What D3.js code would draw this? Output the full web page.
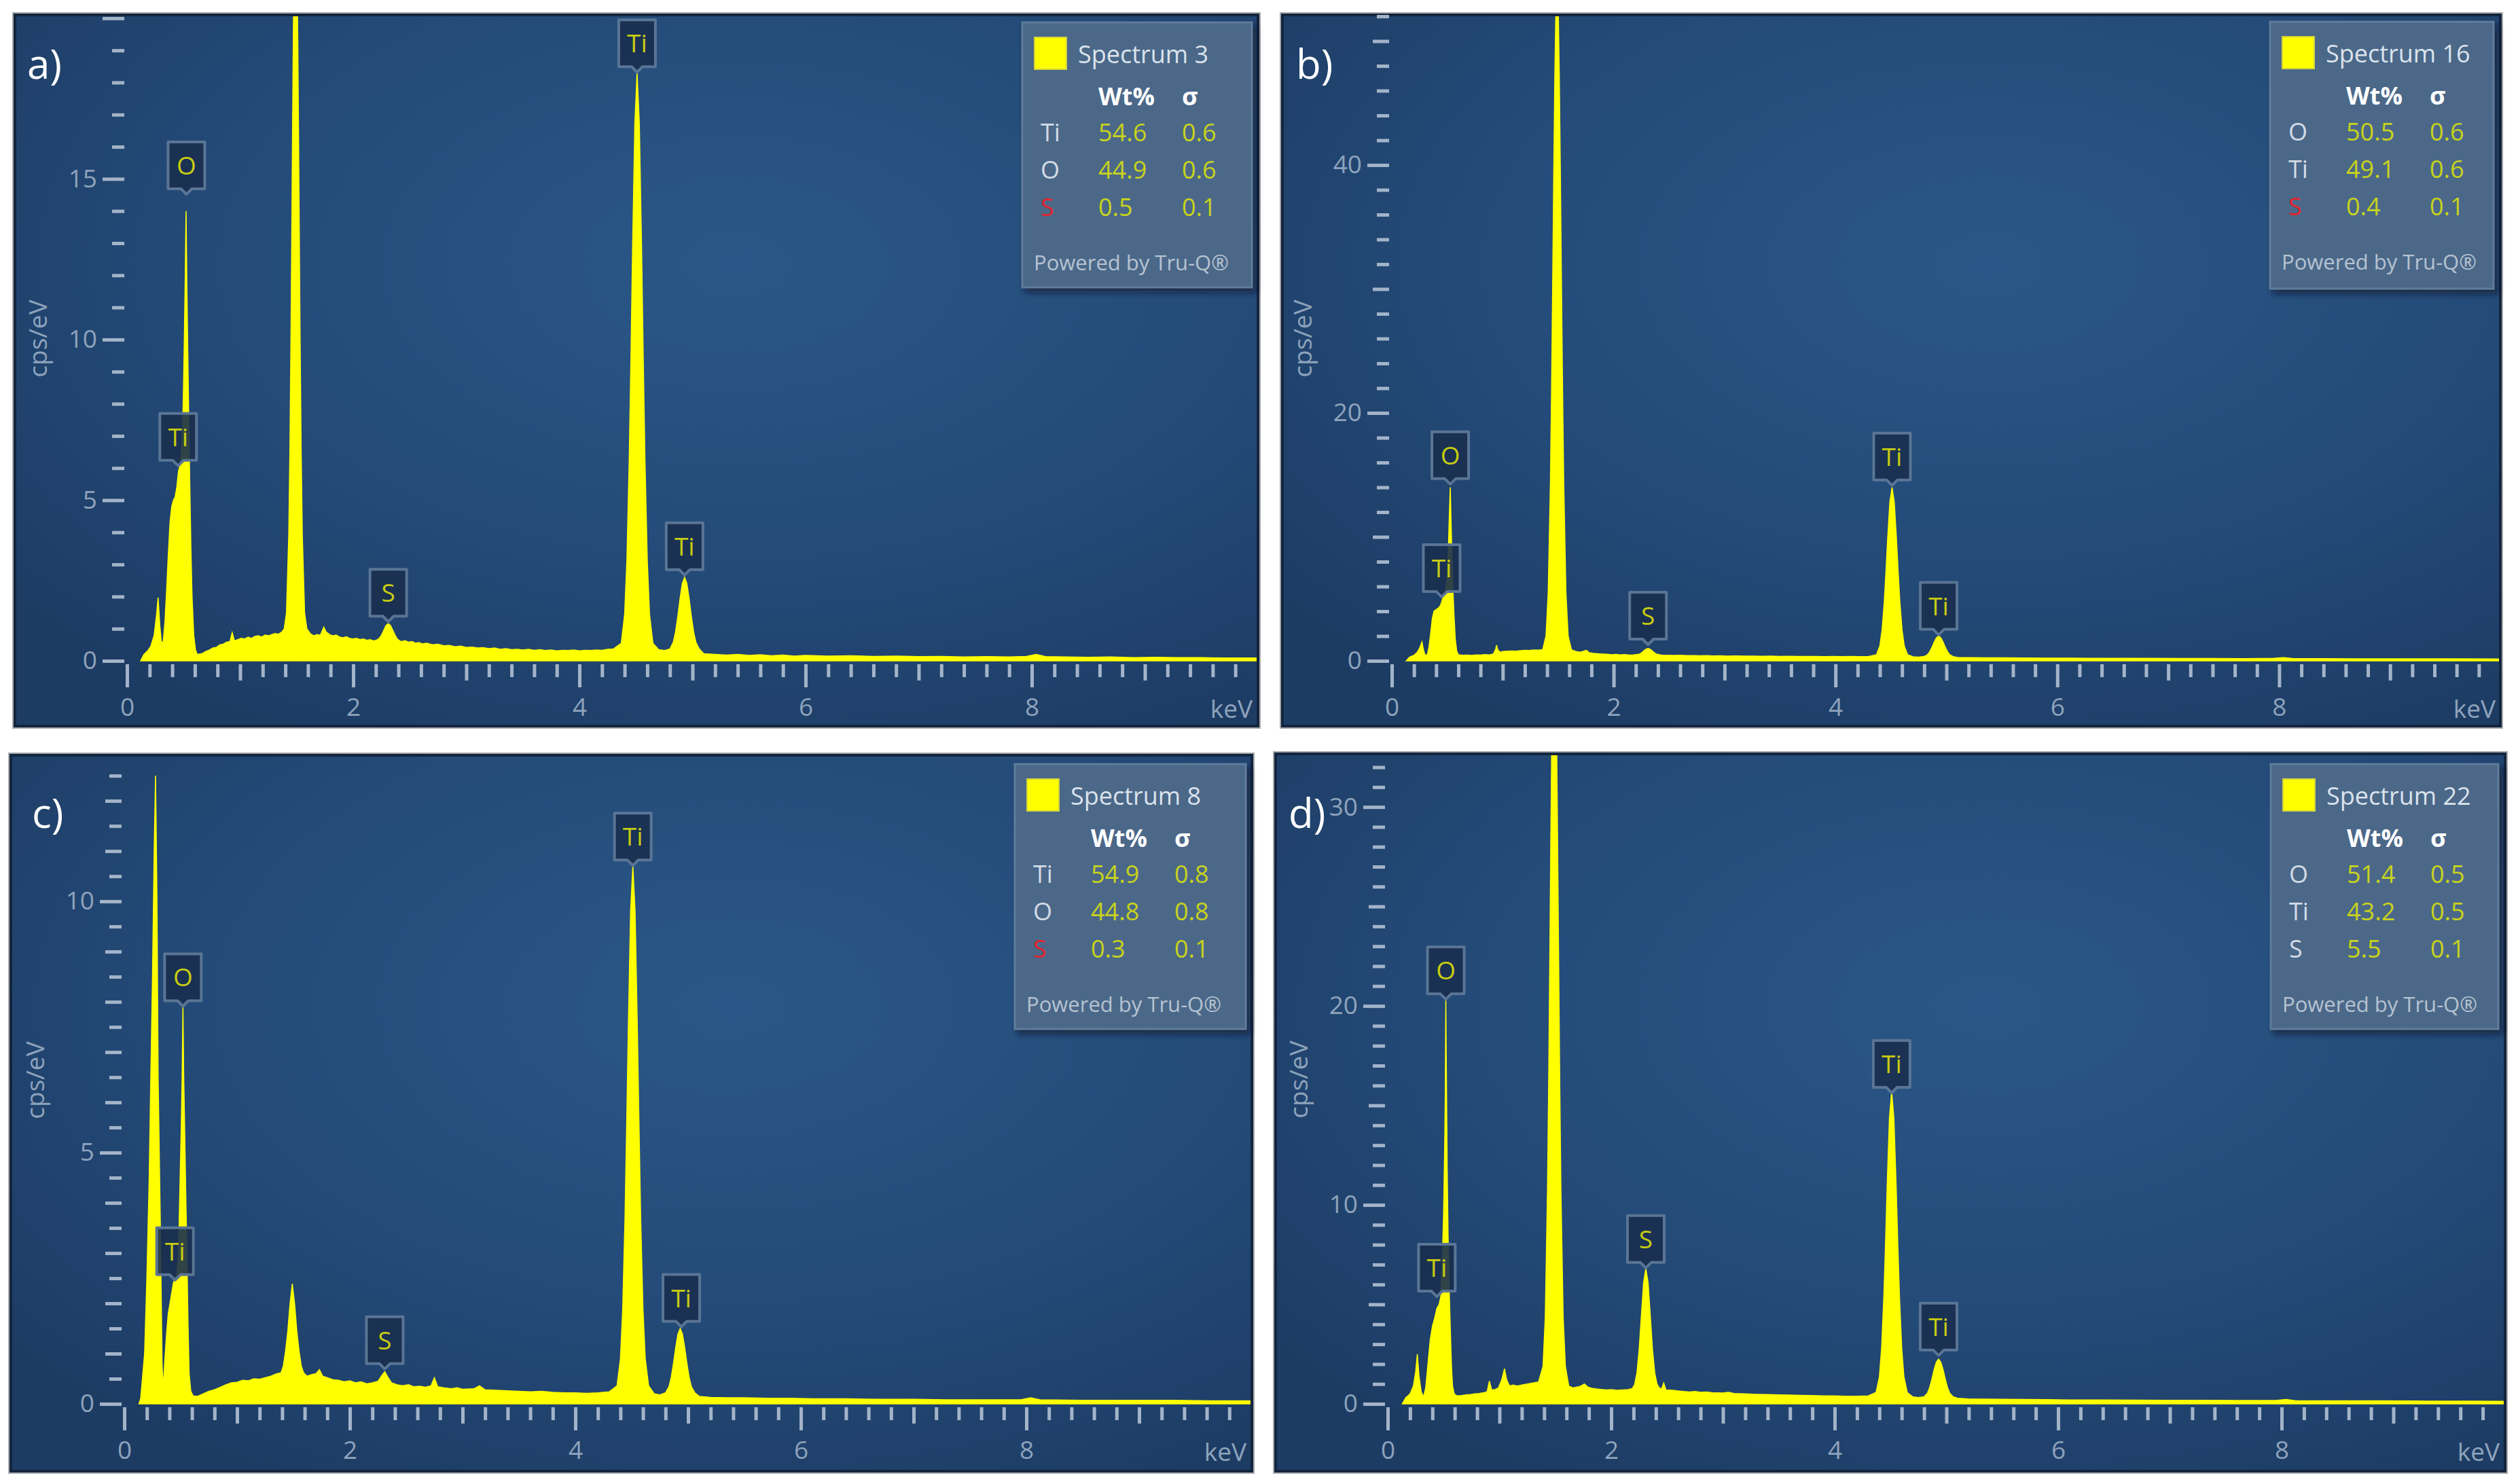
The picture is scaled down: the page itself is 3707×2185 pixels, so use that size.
<!DOCTYPE html>
<html><head><meta charset="utf-8">
<script src="https://cdn.jsdelivr.net/npm/d3@7"></script>
<style>
html,body{margin:0;padding:0;background:#fff;}
svg{display:block;}
text{font-family:"Open Sans","Noto Sans",sans-serif;}
</style>
</head><body>
<svg id="chart" width="3707" height="2185"></svg>
<script>
// ---------------- DATA ----------------
// Spectra: [energy keV, counts cps/eV]
const specA = [
[0.12,0],[0.15,0.2],[0.18,0.3],[0.21,0.45],[0.24,0.8],[0.26,1.4],[0.275,1.97],[0.29,1.1],[0.305,0.55],[0.32,0.6],
[0.335,1.2],[0.35,2.2],[0.365,3.3],[0.38,4.3],[0.395,4.8],[0.41,5.0],[0.425,5.1],[0.44,5.4],[0.455,5.9],[0.47,6.1],[0.48,6.4],
[0.49,7.0],[0.50,8.6],[0.508,10.3],[0.515,12.0],[0.522,14.0],[0.53,11.5],[0.538,9.5],[0.546,7.5],[0.555,5.5],[0.565,3.5],[0.575,2.0],[0.59,0.8],[0.605,0.35],[0.62,0.2],
[0.66,0.22],[0.70,0.3],[0.73,0.34],[0.76,0.4],[0.79,0.42],[0.82,0.5],[0.85,0.52],[0.88,0.58],[0.91,0.6],[0.93,0.88],[0.95,0.62],[0.98,0.66],[1.01,0.7],[1.04,0.68],[1.07,0.74],[1.10,0.7],[1.13,0.76],[1.16,0.78],[1.19,0.74],[1.22,0.8],[1.25,0.78],[1.28,0.82],[1.31,0.85],[1.34,0.83],[1.37,0.9],
[1.39,1.0],[1.41,1.5],[1.43,3.9],[1.44,6.5],[1.45,10.2],[1.46,14.8],[1.47,19.3],[1.48,22.7],[1.49,24.0],[1.50,22.7],[1.51,19.3],[1.52,14.8],[1.53,10.2],[1.54,6.5],[1.55,3.9],[1.57,1.5],[1.59,1.0],
[1.62,0.85],[1.65,0.78],[1.68,0.82],[1.71,0.8],[1.74,1.05],[1.76,0.9],[1.79,0.82],[1.82,0.78],[1.85,0.8],[1.88,0.74],[1.91,0.72],[1.94,0.75],[1.97,0.7],[2.00,0.68],[2.03,0.7],[2.06,0.66],[2.09,0.68],[2.12,0.64],[2.15,0.66],[2.18,0.62],[2.21,0.65],
[2.23,0.7],[2.25,0.8],[2.27,0.95],[2.29,1.1],[2.31,1.16],[2.33,1.1],[2.35,0.95],[2.37,0.8],[2.39,0.68],
[2.42,0.6],[2.46,0.63],[2.49,0.58],[2.52,0.6],[2.55,0.55],[2.58,0.57],[2.61,0.53],[2.65,0.55],[2.70,0.5],[2.75,0.52],[2.80,0.47],[2.85,0.48],[2.90,0.44],[2.95,0.46],[3.00,0.42],[3.05,0.43],[3.10,0.4],[3.15,0.41],[3.20,0.38],[3.25,0.4],[3.30,0.36],[3.35,0.38],[3.40,0.35],[3.45,0.36],[3.50,0.34],[3.55,0.36],[3.60,0.33],[3.65,0.35],[3.70,0.32],[3.75,0.34],[3.80,0.31],[3.85,0.33],[3.90,0.32],[3.95,0.34],[4.00,0.31],[4.05,0.33],[4.10,0.32],[4.15,0.34],[4.20,0.33],[4.25,0.36],[4.30,0.37],
[4.37,0.55],[4.40,1.45],[4.42,3.15],[4.44,6.2],[4.455,9.3],[4.47,12.8],[4.49,16.7],[4.51,18.3],[4.53,16.7],[4.55,12.8],[4.565,9.3],[4.58,6.2],[4.60,3.15],[4.62,1.45],[4.65,0.55],
[4.70,0.35],[4.75,0.32],
[4.80,0.37],[4.83,0.58],[4.85,0.9],[4.87,1.38],[4.89,1.94],[4.91,2.41],[4.93,2.6],[4.95,2.41],[4.97,1.94],[4.99,1.38],[5.01,0.9],[5.03,0.58],[5.06,0.37],
[5.1,0.22],[5.2,0.2],[5.3,0.18],[5.4,0.2],[5.5,0.17],[5.6,0.19],[5.7,0.16],[5.8,0.18],[5.9,0.15],[6.0,0.17],[6.2,0.15],[6.4,0.16],[6.6,0.14],[6.8,0.15],[7.0,0.13],[7.2,0.14],[7.4,0.12],[7.6,0.13],[7.8,0.12],[7.95,0.14],[8.04,0.2],[8.12,0.13],[8.3,0.12],[8.5,0.11],[8.7,0.12],[8.9,0.1],[9.1,0.11],[9.3,0.1],[9.5,0.1],[9.7,0.09],[9.9,0.09],[10.0,0.09]
];
const specB = [
[0.13,0],[0.16,0.3],[0.2,0.45],[0.23,0.7],[0.25,1.0],[0.262,1.3],[0.272,1.53],[0.285,0.9],[0.30,0.45],[0.32,0.5],
[0.335,1.1],[0.35,2.2],[0.365,3.4],[0.38,4.0],[0.395,4.1],[0.41,4.2],[0.425,4.3],[0.44,4.5],[0.455,4.9],[0.47,5.3],[0.48,5.5],
[0.49,6.0],[0.50,7.0],[0.51,9.0],[0.518,11.5],[0.527,14.0],[0.535,11.0],[0.543,8.0],[0.552,5.5],[0.562,3.5],[0.572,1.8],[0.585,0.8],[0.60,0.5],
[0.64,0.45],[0.68,0.47],[0.72,0.44],[0.76,0.48],[0.80,0.46],[0.84,0.5],[0.88,0.48],[0.915,0.55],[0.935,0.9],[0.945,1.26],[0.955,0.9],[0.975,0.7],[1.0,0.75],[1.04,0.78],[1.08,0.8],[1.12,0.78],[1.16,0.82],[1.2,0.85],[1.24,0.83],[1.28,0.88],[1.32,0.86],[1.36,0.9],
[1.39,2.0],[1.41,5.5],[1.43,14.4],[1.44,21.6],[1.45,30.1],[1.46,39.2],[1.47,47.3],[1.48,52.9],[1.49,55.0],[1.50,52.9],[1.51,47.3],[1.52,39.2],[1.53,30.1],[1.54,21.6],[1.55,14.4],[1.57,5.5],[1.59,2.0],
[1.62,0.9],[1.66,0.75],[1.70,0.7],[1.73,0.78],[1.755,0.85],[1.78,0.66],[1.82,0.6],[1.86,0.57],[1.9,0.55],[1.94,0.53],[1.98,0.5],[2.02,0.52],[2.06,0.48],[2.1,0.5],[2.14,0.47],[2.18,0.48],
[2.23,0.53],[2.25,0.63],[2.27,0.79],[2.29,0.94],[2.31,1.0],[2.33,0.94],[2.35,0.79],[2.37,0.63],[2.39,0.53],
[2.43,0.46],[2.48,0.45],[2.54,0.44],[2.6,0.45],[2.66,0.42],[2.72,0.43],[2.78,0.41],[2.84,0.42],[2.9,0.4],[2.96,0.41],[3.02,0.39],[3.1,0.4],[3.18,0.38],[3.26,0.39],[3.34,0.37],[3.42,0.38],[3.5,0.36],[3.58,0.37],[3.66,0.35],[3.74,0.36],[3.82,0.35],[3.9,0.34],[3.98,0.35],[4.06,0.34],[4.14,0.35],[4.22,0.34],[4.3,0.36],
[4.37,0.5],[4.40,1.2],[4.42,2.5],[4.44,4.8],[4.455,7.2],[4.47,9.8],[4.49,12.8],[4.51,14.0],[4.53,12.8],[4.55,9.8],[4.565,7.2],[4.58,4.8],[4.60,2.5],[4.62,1.2],[4.65,0.5],
[4.70,0.33],[4.75,0.3],
[4.80,0.35],[4.83,0.5],[4.85,0.74],[4.87,1.1],[4.89,1.52],[4.91,1.86],[4.93,2.0],[4.95,1.86],[4.97,1.52],[4.99,1.1],[5.01,0.74],[5.03,0.5],[5.06,0.35],
[5.1,0.28],[5.2,0.26],[5.35,0.25],[5.5,0.24],[5.7,0.23],[5.9,0.22],[6.1,0.22],[6.3,0.21],[6.5,0.2],[6.8,0.2],[7.1,0.19],[7.4,0.19],[7.7,0.18],[7.95,0.2],[8.04,0.26],[8.12,0.19],[8.4,0.18],[8.7,0.17],[9.0,0.17],[9.3,0.16],[9.6,0.16],[10.0,0.15]
];
const specC = [
[0.13,0],[0.145,0.1],[0.18,1.0],[0.20,2.5],[0.22,4.4],[0.235,6.5],[0.25,8.5],[0.265,11.0],[0.277,12.5],[0.29,10.0],[0.30,6.5],[0.31,5.0],[0.32,3.5],[0.335,0.8],[0.345,0.3],
[0.36,0.9],[0.375,1.4],[0.39,1.8],[0.405,2.0],[0.42,2.2],[0.435,2.4],[0.45,2.5],[0.465,2.55],[0.48,2.9],
[0.495,4.5],[0.505,5.5],[0.513,6.5],[0.52,7.9],[0.527,6.5],[0.535,5.5],[0.545,4.2],[0.555,3.0],[0.565,1.6],[0.575,0.6],[0.59,0.25],[0.61,0.16],
[0.65,0.15],[0.7,0.2],[0.75,0.25],[0.8,0.28],[0.85,0.33],[0.9,0.38],[0.95,0.42],[1.0,0.43],[1.05,0.47],[1.1,0.46],[1.15,0.5],[1.2,0.49],[1.25,0.52],[1.3,0.55],[1.35,0.6],
[1.39,0.62],[1.41,0.75],[1.43,1.05],[1.45,1.45],[1.47,2.0],[1.49,2.39],[1.51,2.0],[1.53,1.45],[1.55,1.05],[1.57,0.75],[1.59,0.62],
[1.62,0.55],[1.66,0.58],[1.70,0.6],[1.73,0.68],[1.76,0.55],[1.8,0.52],[1.85,0.48],[1.9,0.47],[1.95,0.44],[2.0,0.46],[2.05,0.42],[2.1,0.44],[2.15,0.4],[2.2,0.42],
[2.25,0.45],[2.28,0.55],[2.31,0.64],[2.34,0.52],[2.37,0.42],
[2.42,0.38],[2.47,0.36],[2.52,0.38],[2.57,0.34],[2.62,0.35],[2.67,0.33],[2.72,0.36],[2.75,0.52],[2.78,0.34],[2.83,0.32],[2.9,0.3],[2.95,0.32],[3.0,0.29],[3.1,0.3],[3.15,0.36],[3.2,0.28],[3.3,0.27],[3.4,0.26],[3.5,0.25],[3.6,0.24],[3.7,0.25],[3.8,0.23],[3.9,0.22],[4.0,0.22],[4.1,0.21],[4.2,0.22],[4.3,0.24],
[4.37,0.36],[4.40,0.9],[4.42,1.88],[4.44,3.65],[4.455,5.5],[4.47,7.5],[4.49,9.8],[4.51,10.7],[4.53,9.8],[4.55,7.5],[4.565,5.5],[4.58,3.65],[4.60,1.88],[4.62,0.9],[4.65,0.36],
[4.70,0.2],[4.75,0.18],
[4.80,0.22],[4.83,0.34],[4.85,0.52],[4.87,0.8],[4.89,1.12],[4.91,1.39],[4.93,1.5],[4.95,1.39],[4.97,1.12],[4.99,0.8],[5.01,0.52],[5.03,0.34],[5.06,0.22],
[5.1,0.15],[5.2,0.13],[5.35,0.12],[5.5,0.12],[5.7,0.11],[5.9,0.11],[6.1,0.1],[6.4,0.1],[6.7,0.09],[7.0,0.09],[7.3,0.08],[7.6,0.08],[7.95,0.08],[8.04,0.12],[8.12,0.08],[8.5,0.07],[8.9,0.07],[9.3,0.07],[9.7,0.06],[10.0,0.06]
];
const specD = [
[0.13,0],[0.16,0.3],[0.2,0.5],[0.23,0.9],[0.25,1.6],[0.265,2.5],[0.28,1.4],[0.30,0.6],[0.32,0.35],
[0.34,0.8],[0.36,2.0],[0.38,3.2],[0.40,3.9],[0.42,4.3],[0.44,4.8],[0.46,5.0],[0.475,5.4],
[0.49,7.5],[0.50,9.5],[0.51,13.0],[0.515,15.5],[0.52,20.3],[0.526,16.0],[0.532,12.0],[0.54,8.5],[0.55,5.8],[0.56,3.8],[0.57,2.0],[0.58,0.9],[0.595,0.5],
[0.62,0.4],[0.66,0.42],[0.7,0.45],[0.74,0.47],[0.78,0.5],[0.82,0.52],[0.86,0.56],[0.89,0.62],[0.91,1.15],[0.93,0.7],[0.96,0.72],[0.99,0.8],[1.02,1.2],[1.045,1.77],[1.065,1.2],[1.09,0.9],[1.12,0.95],[1.16,0.9],[1.2,0.95],[1.25,1.0],[1.3,1.05],[1.35,1.1],
[1.39,1.9],[1.41,4.35],[1.43,10.8],[1.44,15.9],[1.45,22.1],[1.46,28.6],[1.47,34.5],[1.48,38.5],[1.49,40.0],[1.50,38.5],[1.51,34.5],[1.52,28.6],[1.53,22.1],[1.54,15.9],[1.55,10.8],[1.57,4.35],[1.59,1.9],
[1.62,0.9],[1.66,0.8],[1.7,0.85],[1.73,0.9],[1.76,1.0],[1.79,0.85],[1.83,0.78],[1.87,0.75],[1.92,0.72],[1.96,0.7],[2.0,0.72],[2.05,0.68],[2.1,0.7],[2.15,0.72],
[2.19,0.77],[2.21,0.98],[2.23,1.55],[2.25,2.7],[2.27,4.43],[2.29,6.1],[2.31,6.8],[2.33,6.1],[2.35,4.43],[2.37,2.7],[2.39,1.55],[2.41,1.0],[2.43,0.8],
[2.45,0.75],[2.47,1.05],[2.49,0.7],[2.55,0.68],[2.6,0.65],[2.65,0.62],[2.7,0.6],[2.75,0.62],[2.8,0.58],[2.85,0.6],[2.9,0.56],[3.0,0.55],[3.05,0.58],[3.1,0.52],[3.2,0.5],[3.3,0.48],[3.4,0.47],[3.5,0.45],[3.6,0.44],[3.7,0.43],[3.8,0.42],[3.9,0.4],[4.0,0.4],[4.1,0.38],[4.2,0.38],[4.3,0.4],
[4.37,0.57],[4.40,1.35],[4.42,2.8],[4.44,5.4],[4.455,8.05],[4.47,11.0],[4.49,14.35],[4.51,15.7],[4.53,14.35],[4.55,11.0],[4.565,8.05],[4.58,5.4],[4.60,2.8],[4.62,1.35],[4.65,0.57],
[4.70,0.35],[4.75,0.32],
[4.80,0.36],[4.83,0.54],[4.85,0.82],[4.87,1.24],[4.89,1.73],[4.91,2.1],[4.93,2.25],[4.95,2.1],[4.97,1.73],[4.99,1.24],[5.01,0.82],[5.03,0.54],[5.06,0.36],
[5.1,0.28],[5.2,0.25],[5.35,0.24],[5.5,0.23],[5.7,0.22],[5.9,0.21],[6.1,0.2],[6.4,0.2],[6.7,0.19],[7.0,0.18],[7.3,0.18],[7.6,0.17],[7.95,0.17],[8.04,0.22],[8.12,0.16],[8.5,0.15],[8.9,0.15],[9.3,0.14],[9.7,0.14],[10.0,0.13]
];

// Element markers: [element, energy keV, marker tip height cps/eV]
const peaksA = [["Ti",0.452,6.05],["O",0.525,14.5],["S",2.31,1.2],["Ti",4.51,18.3],["Ti",4.93,2.65]];
const peaksB = [["Ti",0.45,5.1],["O",0.527,14.2],["S",2.31,1.26],["Ti",4.51,14.1],["Ti",4.93,2.05]];
const peaksC = [["Ti",0.45,2.45],["O",0.52,7.9],["S",2.31,0.68],["Ti",4.51,10.7],["Ti",4.94,1.52]];
const peaksD = [["Ti",0.44,5.36],["O",0.52,20.3],["S",2.31,6.8],["Ti",4.51,15.6],["Ti",4.93,2.4]];

// Quantification tables
const legendTitles = ["Spectrum 3","Spectrum 16","Spectrum 8","Spectrum 22"];
const legendA = [["Ti","54.6","0.6"],["O","44.9","0.6"],["S","0.5","0.1"]];
const legendB = [["O","50.5","0.6"],["Ti","49.1","0.6"],["S","0.4","0.1"]];
const legendC = [["Ti","54.9","0.8"],["O","44.8","0.8"],["S","0.3","0.1"]];
const legendD = [["O","51.4","0.5"],["Ti","43.2","0.5"],["S","5.5","0.1"]];
const legendHeader = ["Wt%","σ"];
const legendFooter = "Powered by Tru-Q®";
const sulfurFlagged = [true,true,true,false];

// Axis labels
const panelLetters = ["a)","b)","c)","d)"];
const xTickLabels = [0,2,4,6,8];
const xUnit = "keV";
const yTitle = "cps/eV";
const yTickLabelsA = [0,5,10,15];
const yTickLabelsB = [0,20,40];
const yTickLabelsC = [0,5,10];
const yTickLabelsD = [0,10,20,30];

// ---------------- LAYOUT ----------------
const panels = [
  {spec:specA, peaks:peaksA, legend:legendA, yLabels:yTickLabelsA,
   frame:{x:20,y:20,w:1834,h:1051}, x0:187, x1:1852, y0:973, yTopVal:20.06,
   yt:{minor:1, medium:null, major:5}, letter:{x:40,y:116}, lg:{x:1505,y:33,w:338,h:390}},
  {spec:specB, peaks:peaksB, legend:legendB, yLabels:yTickLabelsB,
   frame:{x:1886,y:20,w:1797,h:1051}, x0:2049, x1:3682, y0:973, yTopVal:52.0,
   yt:{minor:2, medium:10, major:20}, letter:{x:1908,y:116}, lg:{x:3342,y:32,w:329,h:393}},
  {spec:specC, peaks:peaksC, legend:legendC, yLabels:yTickLabelsC,
   frame:{x:14,y:1110,w:1831,h:1058}, x0:183, x1:1843, y0:2067, yTopVal:12.88,
   yt:{minor:0.5, medium:1, major:5}, letter:{x:47,y:1219}, lg:{x:1494,y:1125,w:340,h:390}},
  {spec:specD, peaks:peaksD, legend:legendD, yLabels:yTickLabelsD,
   frame:{x:1876,y:1108,w:1814,h:1060}, x0:2043, x1:3688, y0:2067, yTopVal:32.6,
   yt:{minor:1, medium:5, major:10}, letter:{x:1897,y:1219}, lg:{x:3343,y:1125,w:335,h:390}}
];

const tickColor = "#a3b4c9";
const labelColor = "#8ea3bc";
const BORDER = 4;

const svg = d3.select("#chart");
const defs = svg.append("defs");
const grad = defs.append("radialGradient").attr("id","bgGrad")
  .attr("cx","58%").attr("cy","35%").attr("r","75%");
grad.append("stop").attr("offset","0%").attr("stop-color","#2a5787");
grad.append("stop").attr("offset","55%").attr("stop-color","#244b79");
grad.append("stop").attr("offset","100%").attr("stop-color","#1d3c64");
const shadow = defs.append("filter").attr("id","lgShadow").attr("x","-10%").attr("y","-10%").attr("width","130%").attr("height","130%");
shadow.append("feDropShadow").attr("dx",5).attr("dy",6).attr("stdDeviation",5)
  .attr("flood-color","#0b1828").attr("flood-opacity",0.65);

const isMult = (v,s) => Math.abs(v/s - Math.round(v/s)) < 1e-6;

panels.forEach((p, i) => {
  const f = p.frame;
  const g = svg.append("g");
  // frame
  g.append("rect").attr("x",f.x-2).attr("y",f.y-2).attr("width",f.w+4).attr("height",f.h+4).attr("fill","#a6a8ab");
  g.append("rect").attr("x",f.x).attr("y",f.y).attr("width",f.w).attr("height",f.h).attr("fill","#13253e");
  const inner = {x:f.x+BORDER, y:f.y+BORDER, w:f.w-2*BORDER, h:f.h-2*BORDER};
  g.append("rect").attr("x",inner.x).attr("y",inner.y).attr("width",inner.w).attr("height",inner.h).attr("fill","url(#bgGrad)");
  const clipId = "clip"+i;
  defs.append("clipPath").attr("id",clipId).append("rect")
    .attr("x",inner.x).attr("y",inner.y).attr("width",inner.w).attr("height",inner.h);

  const x = d3.scaleLinear().domain([0,10]).range([p.x0, p.x1]);
  const y = d3.scaleLinear().domain([0, p.yTopVal]).range([p.y0, inner.y]);

  // ---- y axis (three tick levels) ----
  const yVals = d3.range(0, p.yTopVal + 1e-6, p.yt.minor);
  const yMajor = yVals.filter(v => isMult(v, p.yt.major));
  const yMed = p.yt.medium ? yVals.filter(v => !isMult(v,p.yt.major) && isMult(v,p.yt.medium)) : [];
  const yMinor = yVals.filter(v => !yMajor.includes(v) && !yMed.includes(v));
  const gy = g.append("g").attr("transform",`translate(${p.x0-4},0)`);
  gy.append("g").call(d3.axisLeft(y).tickValues(yMinor).tickSize(18).tickFormat(""));
  gy.append("g").call(d3.axisLeft(y).tickValues(yMed).tickSize(24).tickFormat(""));
  gy.append("g").call(d3.axisLeft(y).tickValues(yMajor).tickSize(32).tickPadding(8)
     .tickFormat(v => p.yLabels.includes(v) ? d3.format("d")(v) : ""));

  // ---- x axis ----
  const xVals = d3.range(0, 9.81, 0.2).map(v => Math.round(v*10)/10);
  const xMajor = xVals.filter(v => isMult(v,2));
  const xMed = xVals.filter(v => !isMult(v,2) && isMult(v,1));
  const xMinor = xVals.filter(v => !isMult(v,1));
  const gx = g.append("g").attr("transform",`translate(0,${p.y0+5})`);
  gx.append("g").call(d3.axisBottom(x).tickValues(xMinor).tickSize(19).tickFormat(""));
  gx.append("g").call(d3.axisBottom(x).tickValues(xMed).tickSize(24).tickFormat(""));
  gx.append("g").call(d3.axisBottom(x).tickValues(xMajor).tickSize(34).tickPadding(16)
     .tickFormat(v => xTickLabels.includes(v) ? d3.format("d")(v) : ""));

  [gy, gx].forEach(ax => {
    ax.selectAll(".domain").remove();
    ax.selectAll("line").attr("stroke",tickColor).attr("stroke-width",5);
    ax.selectAll("text").attr("fill",labelColor).style("font-size","37px")
      .style("font-family",'"Open Sans","Noto Sans",sans-serif');
  });

  g.append("text").attr("x", x(10)-8).attr("y", p.y0+84).attr("text-anchor","end")
    .attr("fill",labelColor).style("font-size","37px").text(xUnit);

  g.append("text").attr("transform",`translate(${p.x0-118},${(p.y0+inner.y)/2}) rotate(-90)`)
    .attr("text-anchor","middle").attr("fill",labelColor).style("font-size","37px").text(yTitle);

  // ---- spectrum ----
  const area = d3.area().x(d => x(d[0])).y0(y(0)).y1(d => y(d[1])).curve(d3.curveLinear);
  g.append("path").datum(p.spec).attr("d",area)
    .attr("fill","#ffff00").attr("stroke","#ffff00").attr("stroke-width",1.5)
    .attr("clip-path",`url(#${clipId})`);

  // ---- element markers ----
  const mk = g.append("g").attr("clip-path",`url(#${clipId})`);
  p.peaks.forEach(([el, e, h]) => {
    const mg = mk.append("g").attr("transform",`translate(${x(e)},${y(h)-1})`);
    mg.append("path").attr("d","M-27,-77 H27 V-8 H8 L0,0 L-8,-8 H-27 Z")
      .attr("fill","#1a2f4f").attr("fill-opacity",0.9)
      .attr("stroke","#5a7595").attr("stroke-width",4).attr("stroke-linejoin","round");
    mg.append("text").attr("x",0).attr("y",-29).attr("text-anchor","middle")
      .attr("fill","#c8cc12").style("font-size","37px").text(el);
  });

  // ---- panel letter ----
  g.append("text").attr("x",p.letter.x).attr("y",p.letter.y)
    .attr("fill","#ffffff").style("font-size","60px").text(panelLetters[i]);

  // ---- legend ----
  const L = p.lg;
  const lg = g.append("g");
  lg.append("rect").attr("x",L.x).attr("y",L.y).attr("width",L.w).attr("height",L.h)
    .attr("fill","#4b6789").attr("stroke","#5f7b9b").attr("stroke-width",3)
    .attr("filter","url(#lgShadow)");
  lg.append("rect").attr("x",L.x+18).attr("y",L.y+22).attr("width",47).attr("height",47)
    .attr("fill","#ffff00").attr("stroke","#d6d23a").attr("stroke-width",2);
  lg.append("text").attr("x",L.x+82).attr("y",L.y+60).attr("fill","#dbe3ec")
    .style("font-size","36px").text(legendTitles[i]);
  lg.append("text").attr("x",L.x+112).attr("y",L.y+122).attr("fill","#ffffff")
    .style("font-size","36px").style("font-weight","bold").text(legendHeader[0]);
  lg.append("text").attr("x",L.x+235).attr("y",L.y+122).attr("fill","#ffffff")
    .style("font-size","36px").style("font-weight","bold").text(legendHeader[1]);
  p.legend.forEach((row, r) => {
    const yy = L.y + 175 + 55*r;
    const red = row[0] === "S" && sulfurFlagged[i];
    lg.append("text").attr("x",L.x+27).attr("y",yy).attr("fill", red ? "#e3232b" : "#d3dbe5")
      .style("font-size","36px").text(row[0]);
    lg.append("text").attr("x",L.x+112).attr("y",yy).attr("fill","#c8d31c")
      .style("font-size","36px").text(row[1]);
    lg.append("text").attr("x",L.x+235).attr("y",yy).attr("fill","#c8d31c")
      .style("font-size","36px").text(row[2]);
  });
  lg.append("text").attr("x",L.x+17).attr("y",L.y+365).attr("fill","#b6c3d1")
    .style("font-size","31px").text(legendFooter);
});
</script>
</body></html>
